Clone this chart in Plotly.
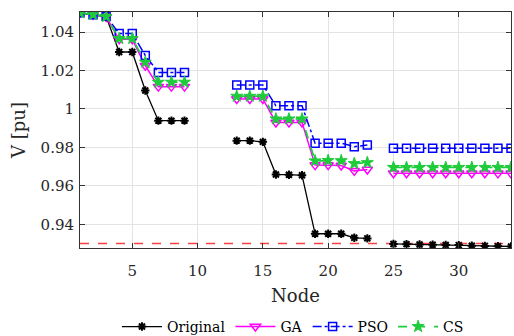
import plotly.graph_objects as go

nodes = list(range(1, 35))
N = None
original = [1.050, 1.049, 1.048, 1.0296, 1.0296, 1.0096, 0.9939, 0.9939, 0.9939, N, N, N,
            0.9835, 0.9835, 0.9829, 0.9659, 0.9658, 0.9655, 0.9351, 0.9351, 0.9351, 0.9330, 0.9327, N,
            0.9298, 0.9297, 0.9295, 0.9294, 0.9293, 0.9292, 0.9289, 0.9288, 0.9286, 0.9285]
ga = [1.050, 1.049, 1.0478, 1.0362, 1.0362, 1.0225, 1.0116, 1.0116, 1.0116, N, N, N,
      1.0052, 1.0052, 1.0052, 0.9930, 0.9930, 0.9930, 0.9708, 0.9708, 0.9706, 0.9678, 0.9685, N,
      0.9666, 0.9666, 0.9666, 0.9666, 0.9666, 0.9666, 0.9666, 0.9666, 0.9665, 0.9665]
pso = [1.050, 1.049, 1.0482, 1.0392, 1.0392, 1.0278, 1.0190, 1.0190, 1.0190, N, N, N,
       1.0125, 1.0125, 1.0125, 1.0016, 1.0016, 1.0016, 0.9822, 0.9822, 0.9822, 0.9804, 0.9812, N,
       0.9796, 0.9796, 0.9796, 0.9796, 0.9796, 0.9796, 0.9796, 0.9796, 0.9796, 0.9796]
cs = [1.050, 1.049, 1.048, 1.0366, 1.0366, 1.0243, 1.0139, 1.0139, 1.0139, N, N, N,
      1.0066, 1.0066, 1.0066, 0.9948, 0.9948, 0.9948, 0.9730, 0.9732, 0.9731, 0.9716, 0.9721, N,
      0.9696, 0.9696, 0.9696, 0.9696, 0.9696, 0.9696, 0.9696, 0.9696, 0.9696, 0.9696]
v_limit = 0.93
x_ticks = [5, 10, 15, 20, 25, 30]
y_ticks = [0.94, 0.96, 0.98, 1.00, 1.02, 1.04]
y_tick_text = ["0.94", "0.96", "0.98", "1", "1.02", "1.04"]

FONT = "DejaVu Serif"
TXT = "#262626"

fig = go.Figure()
fig.add_trace(go.Scatter(x=[nodes[0], nodes[-1]], y=[v_limit, v_limit], mode="lines",
                         line=dict(color="#FF4040", width=1.5, dash="dash"),
                         showlegend=False, hoverinfo="skip"))
fig.add_trace(go.Scatter(x=nodes, y=original, name="Original", mode="lines+markers",
                         line=dict(color="black", width=1.3),
                         marker=dict(symbol="asterisk-open", size=7, color="black",
                                     line=dict(color="black", width=2))))
fig.add_trace(go.Scatter(x=nodes, y=ga, name="GA", mode="lines+markers",
                         line=dict(color="#FF00FF", width=1.5),
                         marker=dict(symbol="triangle-down-open", size=9, color="#FF00FF",
                                     line=dict(color="#FF00FF", width=1.5))))
fig.add_trace(go.Scatter(x=nodes, y=pso, name="PSO", mode="lines+markers",
                         line=dict(color="#0000FF", width=1.5, dash="dashdot"),
                         marker=dict(symbol="square-open", size=8, color="#0000FF",
                                     line=dict(color="#0000FF", width=1.5))))
fig.add_trace(go.Scatter(x=nodes, y=cs, name="CS", mode="lines+markers",
                         line=dict(color="#1ECB3A", width=1.8, dash="dash"),
                         marker=dict(symbol="star", size=9, color="#1ECB3A",
                                     line=dict(color="#1ECB3A", width=1))))

axis_common = dict(showgrid=True, gridcolor="#E3E3E3", gridwidth=1,
                   showline=True, linecolor="#333333", linewidth=1, mirror="ticks",
                   ticks="inside", ticklen=5, tickcolor="#333333", zeroline=False,
                   tickfont=dict(family=FONT, size=15, color=TXT))

fig.update_xaxes(range=[1, 34], tickvals=x_ticks, automargin=False, ticklabelstandoff=9,
                 title=dict(text="Node", font=dict(family=FONT, size=18, color=TXT), standoff=10),
                 **axis_common)
fig.update_yaxes(range=[0.9277, 1.0504], tickvals=y_ticks, ticktext=y_tick_text, automargin=False,
                 ticklabelstandoff=2,
                 title=dict(text="V [pu]", font=dict(family=FONT, size=18, color=TXT), standoff=10),
                 **axis_common)

fig.update_layout(
    width=514, height=336,
    margin=dict(l=80, r=3, t=12, b=88),
    paper_bgcolor="white", plot_bgcolor="white",
    font=dict(family=FONT, size=14, color="black"),
    legend=dict(orientation="h", x=0.57, xanchor="center", xref="container",
                y=0.027, yanchor="middle", yref="container",
                font=dict(family=FONT, size=14, color="black"),
                itemwidth=40, tracegroupgap=0, bgcolor="rgba(0,0,0,0)"),
    showlegend=True,
)

fig.write_html("out.html")
